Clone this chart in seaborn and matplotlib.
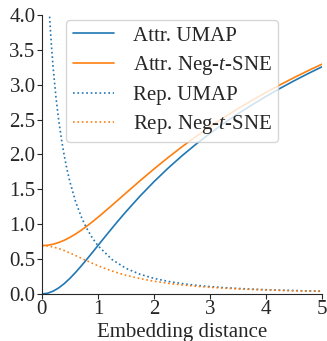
import matplotlib
matplotlib.use("Agg")
import matplotlib.pyplot as plt
import seaborn as sns

# distances (x) for the sampled curves
dist = [0, 0.1, 0.2, 0.3, 0.4, 0.5, 0.6, 0.7, 0.8, 0.9, 1.0, 1.1, 1.2, 1.3, 1.4,
        1.5, 1.75, 2, 2.25, 2.5, 2.75, 3, 3.25, 3.5, 3.75, 4, 4.25, 4.5, 4.75, 5]
attr_umap = [0, 0.0100, 0.0392, 0.0862, 0.1484, 0.2231, 0.3075, 0.3988, 0.4947,
             0.5933, 0.6931, 0.7930, 0.8920, 0.9895, 1.0852, 1.1787, 1.4018,
             1.6094, 1.8021, 1.9810, 2.1474, 2.3026, 2.4478, 2.5840, 2.7123,
             2.8332, 2.9477, 3.0564, 3.1597, 3.2581]
attr_negtsne = [0.6931, 0.6981, 0.7129, 0.7372, 0.7701, 0.8109, 0.8587, 0.9123,
                0.9708, 1.0332, 1.0986, 1.1663, 1.2355, 1.3056, 1.3762, 1.4469,
                1.6218, 1.7918, 1.9548, 2.1102, 2.2578, 2.3979, 2.5307, 2.6568,
                2.7765, 2.8904, 2.9988, 3.1023, 3.2012, 3.2958]
rep_negtsne = [0.6931, 0.6882, 0.6737, 0.6510, 0.6217, 0.5878, 0.5512, 0.5135,
               0.4761, 0.4399, 0.4055, 0.3733, 0.3435, 0.3161, 0.2910, 0.2682,
               0.2200, 0.1823, 0.1527, 0.1292, 0.1104, 0.0953, 0.0830, 0.0728,
               0.0643, 0.0572, 0.0511, 0.0460, 0.0416, 0.0377]

dist_rep_umap = [0.1, 0.125, 0.15, 0.175, 0.2, 0.25, 0.3, 0.35, 0.4, 0.45, 0.5,
                 0.6, 0.7, 0.75, 0.8, 0.9, 1, 1.25, 1.5, 1.75, 2, 2.25, 2.5,
                 2.75, 3, 3.25, 3.5, 3.75, 4, 4.25, 4.5, 4.75, 5]
rep_umap = [4.6151, 4.1744, 3.8165, 3.5161, 3.2581, 2.8332, 2.4941, 2.2152,
            1.9810, 1.7814, 1.6094, 1.3291, 1.1121, 1.0217, 0.9410, 0.8041,
            0.6931, 0.4947, 0.3677, 0.2826, 0.2231, 0.1803, 0.1484, 0.1242,
            0.1054, 0.0905, 0.0785, 0.0687, 0.0606, 0.0539, 0.0482, 0.0434,
            0.0392]

labels = ["Attr. UMAP", "Attr. Neg-$t$-SNE", "Rep. UMAP", "Rep. Neg-$t$-SNE"]
xticks = [0, 1, 2, 3, 4, 5]
yticks = [0, 0.5, 1, 1.5, 2, 2.5, 3, 3.5, 4]
yticklabels = ["0.0", "0.5", "1.0", "1.5", "2.0", "2.5", "3.0", "3.5", "4.0"]

sns.set_style("ticks")
plt.rcParams["font.family"] = ["Liberation Serif", "DejaVu Serif"]
plt.rcParams["mathtext.fontset"] = "custom"
plt.rcParams["mathtext.it"] = "Liberation Serif:italic"
plt.rcParams["mathtext.rm"] = "Liberation Serif"

fs = 15
fig, ax = plt.subplots(figsize=(3.27, 3.41), dpi=100)
fig.subplots_adjust(left=0.128, right=0.985, bottom=0.138, top=0.956)

blue = "#1f77b4"
orange = "#ff7f0e"
lw = 1.2
sns.lineplot(x=dist, y=attr_umap, ax=ax, color=blue, lw=lw, label=labels[0])
sns.lineplot(x=dist, y=attr_negtsne, ax=ax, color=orange, lw=lw, label=labels[1])
sns.lineplot(x=dist_rep_umap, y=rep_umap, ax=ax, color=blue, lw=lw,
             linestyle=":", label=labels[2])
sns.lineplot(x=dist, y=rep_negtsne, ax=ax, color=orange, lw=lw,
             linestyle=":", label=labels[3])

ax.set_xlim(0, 5)
ax.set_ylim(0, 4)
ax.set_xticks(xticks)
ax.set_yticks(yticks)
ax.set_yticklabels(yticklabels)
ax.tick_params(labelsize=fs, length=3.5, pad=1)
ax.set_xlabel("Embedding distance", fontsize=fs, labelpad=2.5)
ax.set_ylabel("")
sns.despine(ax=ax)
ax.legend(loc="upper center", fontsize=fs, frameon=True,
          bbox_to_anchor=(0.465, 1.0), labelspacing=0.4, borderaxespad=0.23,
          borderpad=0.3, handletextpad=0.9)

fig.savefig("out.png", dpi=100)
